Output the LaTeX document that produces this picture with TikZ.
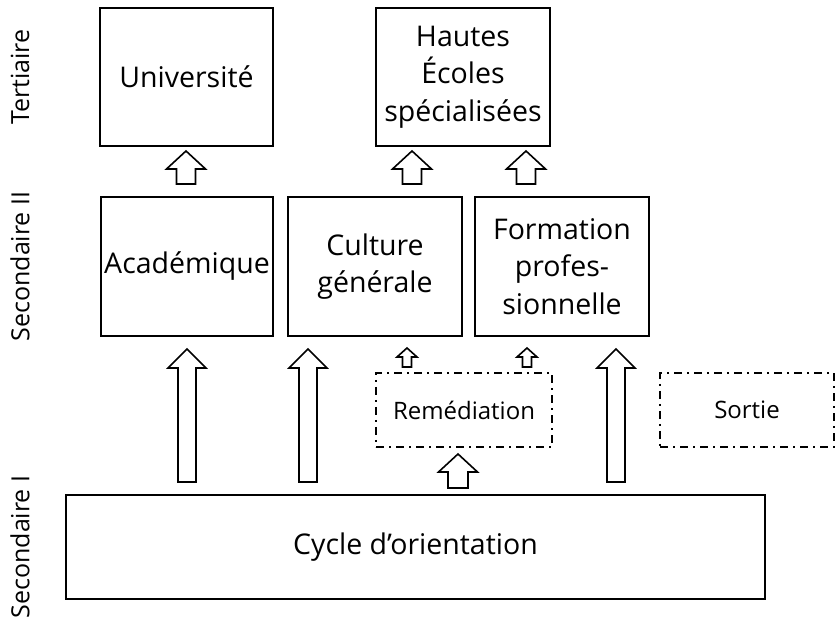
\documentclass[tikz,border=0pt]{standalone}
\usepackage{fontspec}
\setmainfont{Open Sans}
\usetikzlibrary{positioning}

% hollow block arrow pointing up: x, bottom, top, half shaft, half head, head length
\newcommand{\hollowup}[6]{%
  \draw[blockarr] (#1-#4,#2) -- (#1-#4,#3-#6) -- (#1-#5,#3-#6) -- (#1,#3)
    -- (#1+#5,#3-#6) -- (#1+#4,#3-#6) -- (#1+#4,#2) -- cycle;}

\begin{document}
\begin{tikzpicture}[x=1pt,y=1pt,
  box/.style={draw, line width=1.8pt, align=center, inner sep=0pt,
    font=\fontsize{28.5}{37.5}\selectfont},
  optbox/.style={draw, line width=1.9pt, inner sep=0pt,
    dash pattern=on 8pt off 5pt on 2pt off 5pt, font=\fontsize{24}{28}\selectfont},
  level/.style={rotate=90, font=\fontsize{25}{28}\selectfont},
  blockarr/.style={draw, line width=1.6pt, fill=white, line join=miter}]
  \useasboundingbox (0,0) rectangle (836,623);

  % levels
  \node[level] (tert) at (20,546) {Tertiaire};
  \node[level] (sec2) at (20,356.5) {Secondaire II};
  \node[level] (sec1) at (20,76) {Secondaire I};

  % tertiary
  \node[box, minimum width=173, minimum height=138] (univ) at (186.5,546) {Université};
  \node[box, minimum width=174, minimum height=138] (hes) at (463,546) {Hautes\\Écoles\\spécialisées};

  % secondary II
  \node[box, minimum width=172, minimum height=139] (acad) at (187,356.5) {Académique};
  \node[box, minimum width=174, minimum height=139] (cult) at (375,356.5) {Culture\\générale};
  \node[box, minimum width=174, minimum height=139] (form) at (562,356.5) {Formation\\profes-\\sionnelle};

  % in between
  \node[optbox, minimum width=176, minimum height=74] (remed) at (464,213) {Remédiation};
  \node[optbox, minimum width=174, minimum height=74] (sortie) at (747,213) {Sortie};

  % secondary I
  \node[box, minimum width=699, minimum height=104] (cycle) at (415.5,76) {Cycle d’orientation};

  % arrows
  \hollowup{186}{439}{472}{9.5}{19.5}{18}
  \hollowup{412}{439}{472}{9.5}{19.5}{18}
  \hollowup{526}{439}{472}{9.5}{19.5}{18}
  \hollowup{187}{141}{274}{9}{19}{19}
  \hollowup{308}{141}{274}{9}{19}{19}
  \hollowup{616}{141}{274}{9}{19}{19}
  \hollowup{407}{256}{275}{4.5}{10}{9}
  \hollowup{527}{256}{275}{4.5}{10}{9}
  \hollowup{458}{135}{169}{10}{19.5}{18}
\end{tikzpicture}
\end{document}
